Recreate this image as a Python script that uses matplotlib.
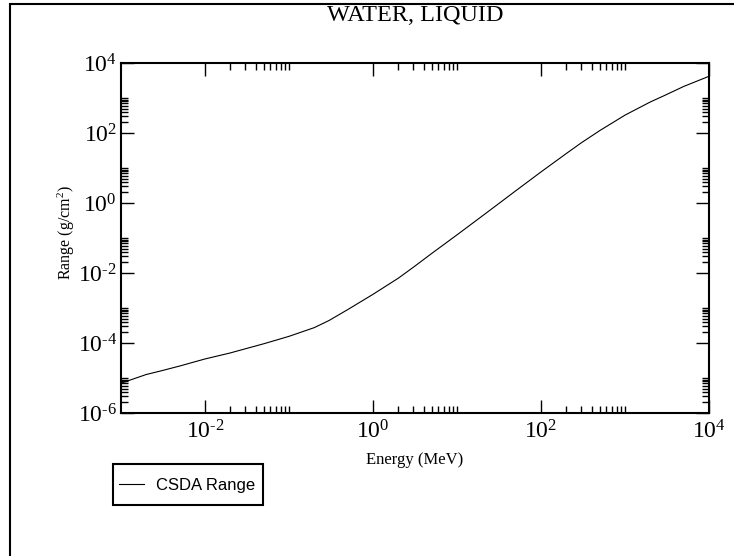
import numpy as np
import matplotlib
matplotlib.use("Agg")
import matplotlib.pyplot as plt
from matplotlib.patches import Rectangle
from matplotlib.ticker import FixedLocator, FuncFormatter

# CSDA range of protons in liquid water
energy = [1e-3, 2e-3, 3e-3, 5e-3, 1e-2, 2e-2, 3e-2, 5e-2, 1e-1, 0.2, 0.3, 0.5,
          1, 2, 3, 5, 10, 20, 30, 50, 100, 200, 300, 500,
          1000, 2000, 3000, 5000, 10000]
csda_range = [7.1e-6, 1.26e-5, 1.6e-5, 2.2e-5, 3.5e-5, 5.2e-5, 6.8e-5, 9.5e-5,
              1.55e-4, 2.75e-4, 4.4e-4, 9.0e-4,
              2.46e-3, 7.1e-3, 1.44e-2, 3.62e-2, 0.123, 0.426, 0.885, 2.23,
              7.72, 25.9, 51.9, 117,
              324, 770, 1200, 2140, 4170]

title = "WATER, LIQUID"
x_label = "Energy (MeV)"
y_label = "Range (g/cm$^{2}$)"
legend_label = "CSDA Range"

plt.rcParams['font.family'] = ['Liberation Serif', 'DejaVu Serif']
plt.rcParams['mathtext.fontset'] = 'custom'
plt.rcParams['mathtext.rm'] = 'Liberation Serif'
plt.rcParams['mathtext.it'] = 'Liberation Serif:italic'

W, H = 734, 556
fig = plt.figure(figsize=(W / 100, H / 100), dpi=100)
ax = fig.add_axes([121 / W, 1 - 413 / H, 588 / W, 350 / H])

line, = ax.plot(energy, csda_range, color='black', lw=0.8)

ax.set_xscale('log')
ax.set_yscale('log')
ax.set_xlim(1e-3, 1e4)
ax.set_ylim(1e-6, 1e4)


def major_minor(lo, hi):
    majors = [10.0 ** e for e in range(lo, hi + 1) if e % 2 == 0]
    minors = [k * m for m in majors for k in range(2, 11)]
    return majors, minors


def pow_label(v, pos):
    e = int(round(np.log10(v)))
    if e < 0:
        return r'$10^{\text{-}%d}$' % (-e)
    return '$10^{%d}$' % e


xmaj, xmin_ = major_minor(-3, 4)
ymaj, ymin_ = major_minor(-6, 4)
ax.xaxis.set_major_locator(FixedLocator(xmaj))
ax.xaxis.set_minor_locator(FixedLocator(xmin_))
ax.yaxis.set_major_locator(FixedLocator(ymaj))
ax.yaxis.set_minor_locator(FixedLocator(ymin_))

ax.xaxis.set_major_formatter(FuncFormatter(pow_label))
ax.yaxis.set_major_formatter(FuncFormatter(pow_label))
ax.xaxis.set_minor_formatter(FuncFormatter(lambda v, p: ''))
ax.yaxis.set_minor_formatter(FuncFormatter(lambda v, p: ''))

ax.tick_params(which='both', direction='in', top=True, right=True, width=1.0)
ax.tick_params(which='major', length=9.5, labelsize=17)
ax.tick_params(axis='x', which='major', pad=5)
ax.tick_params(axis='y', which='major', pad=3)
ax.tick_params(which='minor', length=5)
for s in ax.spines.values():
    s.set_linewidth(1.5)

ax.set_title(title, fontsize=17.5, y=1 + (63.5 - 15.7) / 350, pad=0,
             va='center')
ax.set_xlabel(x_label, fontsize=12)
ax.xaxis.set_label_coords(0.5, -0.11)
ax.set_ylabel(y_label, fontsize=11.5)
ax.yaxis.set_label_coords(-0.075, 0.515)

# legend with a square frame drawn separately
leg = fig.legend([line], [legend_label], loc='center left',
                 bbox_to_anchor=(119 / W, 1 - 485.5 / H), frameon=False,
                 borderpad=0, borderaxespad=0, handlelength=1.5,
                 handletextpad=0.75,
                 prop={'family': 'Liberation Sans', 'size': 12})
fig.patches.append(Rectangle((112.7 / W, 1 - 505 / H), 150 / W, 41 / H,
                             transform=fig.transFigure, fill=False,
                             lw=1.5, edgecolor='black'))

# page border
fig.patches.append(Rectangle((9.5 / W, -0.1), 1.2, 0.1 + 1 - 4 / H,
                             transform=fig.transFigure, fill=False,
                             lw=1.5, edgecolor='black'))

fig.savefig('out.png', dpi=100)
